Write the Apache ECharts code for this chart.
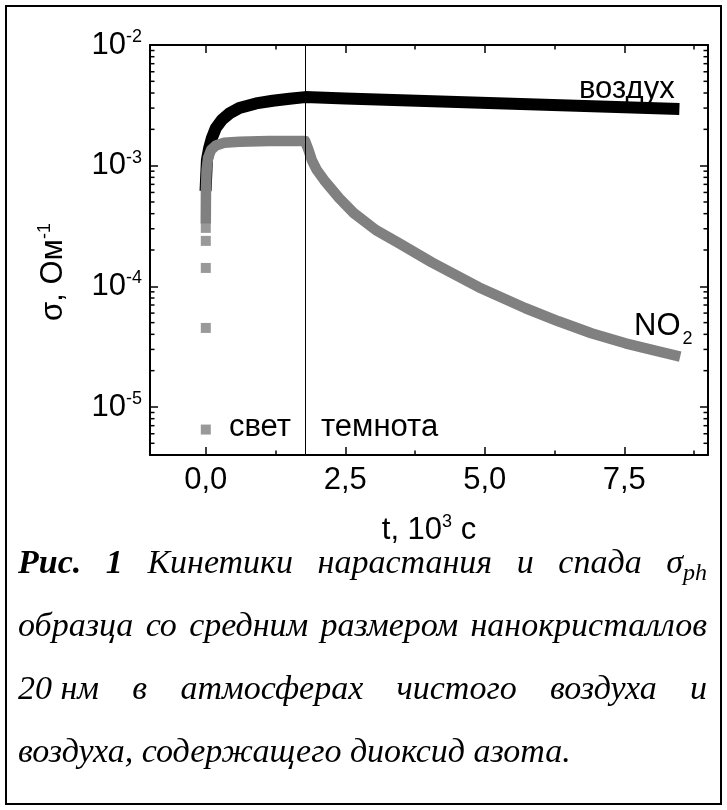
<!DOCTYPE html>
<html><head><meta charset="utf-8">
<script src="https://cdn.jsdelivr.net/npm/echarts@6/dist/echarts.min.js"></script>
<style>html,body{margin:0;padding:0;background:#fff}#c{width:727px;height:810px}</style>
</head><body><div id="c"></div>
<script>
// ---- data (t in 10^3 s, sigma in Ohm^-1) ----
const airT = [0, 0.02, 0.06, 0.11, 0.18, 0.29, 0.42, 0.6, 0.9, 1.2, 1.5, 1.78, 2.5, 3.5, 4.5, 5.5, 6.5, 7.5, 8.38];
const airSigma = [6.9e-4, 1.11e-3, 1.40e-3, 1.70e-3, 2.05e-3, 2.40e-3, 2.70e-3, 3.0e-3, 3.28e-3, 3.45e-3, 3.58e-3, 3.70e-3, 3.60e-3, 3.48e-3, 3.37e-3, 3.26e-3, 3.15e-3, 3.05e-3, 2.96e-3];
const no2T = [0, 0.003, 0.014, 0.04, 0.095, 0.18, 0.33, 0.6, 1.13, 1.78, 1.84, 1.90, 1.99, 2.12, 2.39, 2.65, 3.05, 3.46, 4.05, 4.89, 5.73, 6.32, 6.91, 7.52, 8.11, 8.41];
const no2Sigma = [3.66e-4, 6.28e-4, 9.2e-4, 1.16e-3, 1.35e-3, 1.47e-3, 1.55e-3, 1.58e-3, 1.60e-3, 1.60e-3, 1.35e-3, 1.11e-3, 9.2e-4, 7.6e-4, 5.39e-4, 4.05e-4, 2.92e-4, 2.28e-4, 1.58e-4, 9.84e-5, 6.58e-5, 5.13e-5, 4.08e-5, 3.37e-5, 2.89e-5, 2.68e-5];
const no2StartT = [0, 0, 0, 0, 0];
const no2StartSigma = [3.05e-4, 2.38e-4, 1.42e-4, 4.52e-5, 6.5e-6];
const switchT = 1.78;
const xTickValues = [0, 2.5, 5, 7.5];
const xMinorTickValues = [1.25, 3.75, 6.25, 8.75];
const yMinorTickValues = [5e-6, 6e-6, 7e-6, 8e-6, 9e-6,
  2e-5, 3e-5, 4e-5, 5e-5, 6e-5, 7e-5, 8e-5, 9e-5,
  2e-4, 3e-4, 4e-4, 5e-4, 6e-4, 7e-4, 8e-4, 9e-4,
  2e-3, 3e-3, 4e-3, 5e-3, 6e-3, 7e-3, 8e-3, 9e-3];
const X_MIN = -1, X_MAX = 9, Y_MIN = 4e-6, Y_MAX = 1e-2;

const chart = echarts.init(document.getElementById('c'), null, {renderer: 'canvas'});
const SANS = 'Liberation Sans, Arial, sans-serif';
const SERIF = 'Liberation Serif, Times New Roman, serif';
const GRID = {left: 150, top: 45, width: 558, height: 410, outerBoundsMode: 'none', containLabel: false};
const zip = (a, b) => a.map((v, i) => [v, b[i]]);

function decadeLabel(v) {
  const e = Math.log10(v);
  const r = Math.round(e);
  if (Math.abs(e - r) > 1e-6) return '';
  return '{b|10}{s|' + r + '}';
}

// caption layout (justified lines)
const mctx = document.createElement('canvas').getContext('2d');
function measure(font, t) { mctx.font = font; return mctx.measureText(t).width; }
const CAP_SIZE = 34;
const fI = 'italic ' + CAP_SIZE + 'px ' + SERIF;
const fBI = 'italic bold ' + CAP_SIZE + 'px ' + SERIF;
const fSub = 'italic ' + Math.round(CAP_SIZE * 0.72) + 'px ' + SERIF;
const capLeft = 18, capRight = 707;
const captionLines = [
  {y: 564, justify: true, words: [
    {t: 'Рис.', f: fBI}, {t: '1', f: fBI}, {t: 'Кинетики', f: fI}, {t: 'нарастания', f: fI},
    {t: 'и', f: fI}, {t: 'спада', f: fI}, {t: 'σ', f: fI, sub: 'ph'}]},
  {y: 627, justify: true, words: 'образца со средним размером нанокристаллов'.split(' ').map(t => ({t, f: fI}))},
  {y: 690, justify: true, words: ['20 нм', 'в', 'атмосферах', 'чистого', 'воздуха', 'и'].map(t => ({t, f: fI}))},
  {y: 753, justify: false, words: [{t: 'воздуха, содержащего диоксид азота.', f: fI}]}
];
const captionEls = [];
captionLines.forEach(line => {
  const widths = line.words.map(w => measure(w.f, w.t) + (w.sub ? measure(fSub, w.sub) : 0));
  const total = widths.reduce((a, b) => a + b, 0);
  const gap = line.justify && line.words.length > 1 ? (capRight - capLeft - total) / (line.words.length - 1) : 0;
  let x = capLeft;
  line.words.forEach((w, i) => {
    captionEls.push({type: 'text', x: x, y: line.y, silent: true,
      style: {text: w.t, font: w.f, fill: '#000', textVerticalAlign: 'middle'}});
    if (w.sub) {
      captionEls.push({type: 'text', x: x + measure(w.f, w.t), y: line.y + 10, silent: true,
        style: {text: w.sub, font: fSub, fill: '#000', textVerticalAlign: 'middle'}});
    }
    x += widths[i] + gap;
  });
});

const axisLineStyle = {color: '#000', width: 2};
const majorTick = {show: true, inside: true, length: 8, lineStyle: {color: '#000', width: 1.5}};
const minorTick = {show: true, inside: true, length: 4.5, lineStyle: {color: '#000', width: 1.5}};
const supRich = {fontFamily: SANS, fontSize: 18, color: '#000', padding: [0, 0, 16, 0]};

const option = {
  backgroundColor: '#fff',
  animation: false,
  grid: [Object.assign({}, GRID), Object.assign({}, GRID), Object.assign({}, GRID), Object.assign({}, GRID)],
  xAxis: [
    {gridIndex: 0, type: 'value', position: 'bottom', min: X_MIN, max: X_MAX,
      axisLine: {show: true, onZero: false, lineStyle: axisLineStyle},
      axisTick: Object.assign({customValues: xTickValues}, majorTick),
      axisLabel: {customValues: xTickValues, color: '#000', fontFamily: SANS, fontSize: 31, margin: 10,
        formatter: v => v.toFixed(1).replace('.', ',')},
      splitLine: {show: false},
      name: '{a|t, 10}{s|3}{a| c}', nameLocation: 'middle', nameGap: 58,
      nameTextStyle: {rich: {a: {fontFamily: SANS, fontSize: 31, color: '#000'}, s: supRich}}},
    {gridIndex: 1, type: 'value', position: 'top', min: X_MIN, max: X_MAX,
      axisLine: {show: true, onZero: false, lineStyle: axisLineStyle},
      axisTick: Object.assign({customValues: xTickValues}, majorTick),
      axisLabel: {show: false}, splitLine: {show: false}},
    {gridIndex: 2, type: 'value', position: 'bottom', min: X_MIN, max: X_MAX,
      axisLine: {show: false, onZero: false},
      axisTick: Object.assign({customValues: xMinorTickValues}, minorTick),
      axisLabel: {show: false}, splitLine: {show: false}},
    {gridIndex: 3, type: 'value', position: 'top', min: X_MIN, max: X_MAX,
      axisLine: {show: false, onZero: false},
      axisTick: Object.assign({customValues: xMinorTickValues}, minorTick),
      axisLabel: {show: false}, splitLine: {show: false}}
  ],
  yAxis: [
    {gridIndex: 0, type: 'log', logBase: 10, position: 'left', min: Y_MIN, max: Y_MAX,
      axisLine: {show: true, onZero: false, lineStyle: axisLineStyle},
      axisTick: majorTick,
      axisLabel: {color: '#000', margin: 8, formatter: decadeLabel,
        rich: {b: {fontFamily: SANS, fontSize: 31, color: '#000'}, s: supRich}},
      splitLine: {show: false},
      name: '{a|σ, Ом}{s|-1}', nameLocation: 'middle', nameGap: 80, nameRotate: 90,
      nameTextStyle: {padding: [0, 44, 0, 0], rich: {a: {fontFamily: SANS, fontSize: 31, color: '#000'}, s: supRich}}},
    {gridIndex: 1, type: 'log', logBase: 10, position: 'right', min: Y_MIN, max: Y_MAX,
      axisLine: {show: true, onZero: false, lineStyle: axisLineStyle},
      axisTick: majorTick, axisLabel: {show: false}, splitLine: {show: false}},
    {gridIndex: 2, type: 'log', logBase: 10, min: Y_MIN, max: Y_MAX, show: false},
    {gridIndex: 3, type: 'log', logBase: 10, min: Y_MIN, max: Y_MAX, show: false}
  ],
  series: [
    {name: 'воздух', type: 'line', xAxisIndex: 0, yAxisIndex: 0, data: zip(airT, airSigma),
      showSymbol: false, symbol: 'none', smooth: false, z: 3,
      lineStyle: {color: '#000', width: 12, cap: 'square', join: 'round'},
      markLine: {silent: true, symbol: ['none', 'none'], label: {show: false},
        lineStyle: {color: '#000', width: 1, type: 'solid'}, data: [{xAxis: switchT}]}},
    {name: 'NO2', type: 'line', xAxisIndex: 0, yAxisIndex: 0, data: zip(no2T, no2Sigma),
      showSymbol: false, symbol: 'none', smooth: false, z: 4,
      lineStyle: {color: '#808080', width: 10.5, cap: 'square', join: 'round'}},
    {name: 'NO2 start', type: 'scatter', xAxisIndex: 0, yAxisIndex: 0, data: zip(no2StartT, no2StartSigma),
      symbol: 'rect', symbolSize: 10, z: 4, itemStyle: {color: '#808080'}},
    {name: 'minor y ticks', type: 'custom', xAxisIndex: 0, yAxisIndex: 0, silent: true, clip: false, z: 5,
      data: yMinorTickValues.map(v => [X_MIN, v]),
      renderItem: function (params, api) {
        const p = api.coord([X_MIN, api.value(1)]);
        const q = api.coord([X_MAX, api.value(1)]);
        const st = {stroke: '#000', lineWidth: 1.5};
        return {type: 'group', children: [
          {type: 'line', shape: {x1: p[0], y1: p[1], x2: p[0] + 4.5, y2: p[1]}, style: st},
          {type: 'line', shape: {x1: q[0] - 4.5, y1: q[1], x2: q[0], y2: q[1]}, style: st}
        ]};
      }}
  ],
  graphic: [
    {type: 'rect', shape: {x: 6, y: 6, width: 715, height: 798}, silent: true,
      style: {fill: 'none', stroke: '#000', lineWidth: 2}},
    {type: 'text', x: 579, y: 89, silent: true,
      style: {text: 'воздух', font: '31px ' + SANS, fill: '#000', textVerticalAlign: 'middle'}},
    {type: 'text', x: 634, y: 326, silent: true,
      style: {text: '{a|NO}{b|2}', fill: '#000',
        rich: {a: {fontFamily: SANS, fontSize: 31, color: '#000'},
          b: {fontFamily: SANS, fontSize: 18, color: '#000', padding: [26, 0, 0, 2]}},
        textVerticalAlign: 'middle'}},
    {type: 'text', x: 229, y: 427, silent: true,
      style: {text: 'свет', font: '31px ' + SANS, fill: '#000', textVerticalAlign: 'middle'}},
    {type: 'text', x: 321, y: 427, silent: true,
      style: {text: 'темнота', font: '31px ' + SANS, fill: '#000', textVerticalAlign: 'middle'}}
  ].concat(captionEls)
};
chart.setOption(option);
</script></body></html>
